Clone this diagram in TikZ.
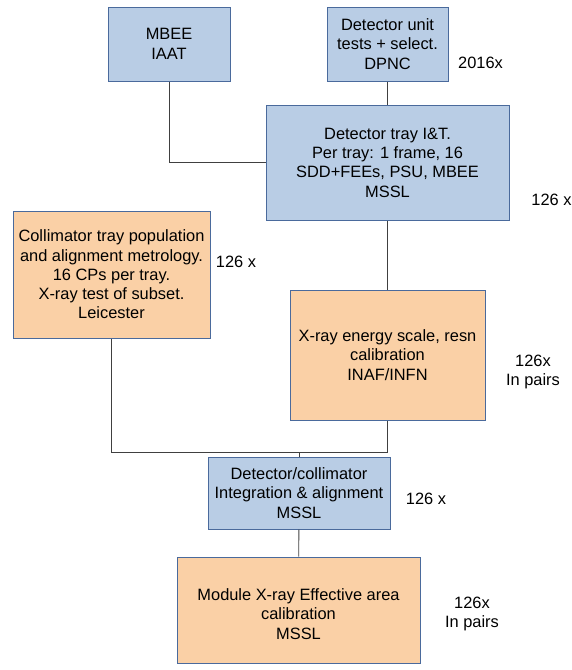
\documentclass[tikz,border=0pt]{standalone}
\usepackage{fontspec}
\setmainfont{Liberation Sans}
\usetikzlibrary{positioning}
\definecolor{boxblue}{HTML}{B9CDE5}
\definecolor{boxorange}{HTML}{FAD0A6}
\definecolor{boxedge}{HTML}{4A6A9C}
\definecolor{wire}{HTML}{404040}

\begin{document}
\begin{tikzpicture}[
                x=1pt, y=-1pt,
                block/.style={rectangle, draw=boxedge, line width=1pt, inner sep=0pt, align=center, font=\fontsize{16.4}{19.3}\selectfont},
                detblock/.style={block, fill=boxblue},
                colblock/.style={block, fill=boxorange},
                count/.style={inner sep=0pt, align=center, font=\fontsize{16.4}{19.3}\selectfont},
                link/.style={draw=wire, line width=0.9pt}
            ]
            \useasboundingbox (0,0) rectangle (572,670);

            % detector chain
            \node[detblock, minimum width=122pt, minimum height=74pt] (mbee) at (169,44) {MBEE\\IAAT};
            \node[detblock, minimum width=121pt, minimum height=74pt] (unit) at (387.5,44) {Detector unit\\tests + select.\\DPNC};
            \node[detblock, minimum width=243pt, minimum height=115pt] (tray) at (387.5,162.5) {Detector tray I\&T.\\Per tray: 1 frame, 16\\SDD+FEEs, PSU, MBEE\\MSSL};

            % collimator and x-ray calibration
            \node[colblock, minimum width=197pt, minimum height=127pt] (colli) at (111.5,274.5) {Collimator tray population\\and alignment metrology.\\16 CPs per tray.\\X-ray test of subset.\\Leicester};
            \node[colblock, minimum width=195pt, minimum height=130pt] (xray) at (387.5,355) {X-ray energy scale, resn\\calibration\\INAF/INFN};

            % integration
            \node[detblock, minimum width=182pt, minimum height=72pt] (detcol) at (299,493) {Detector/collimator\\Integration \& alignment\\MSSL};
            \node[colblock, minimum width=243pt, minimum height=106pt] (module) at (298.5,610) {};
            \node[count] (moduletext) at (298.5,614) {Module X-ray Effective area\\calibration\\MSSL};

            % quantities
            \node[count] (unitn) at (480.5,63) {2016x};
            \node[count] (trayn) at (551.5,200) {126 x};
            \node[count] (collin) at (236,262) {126 x};
            \node[count] (xrayn) at (533,372) {126x\\In pairs};
            \node[count] (detcoln) at (426,499) {126 x};
            \node[count] (modulen) at (472,614) {126x\\In pairs};

            \coordinate (join) at (299,452);

            \draw[link] (mbee) |- (tray);
            \draw[link] (unit) -- (tray);
            \draw[link] (tray) -- (xray);
            \draw[link] (colli) |- (join);
            \draw[link] (xray) |- (join);
            \draw[link] (join) -- (detcol);
            \draw[link] (detcol) -- (module);

        \end{tikzpicture}
\end{document}
